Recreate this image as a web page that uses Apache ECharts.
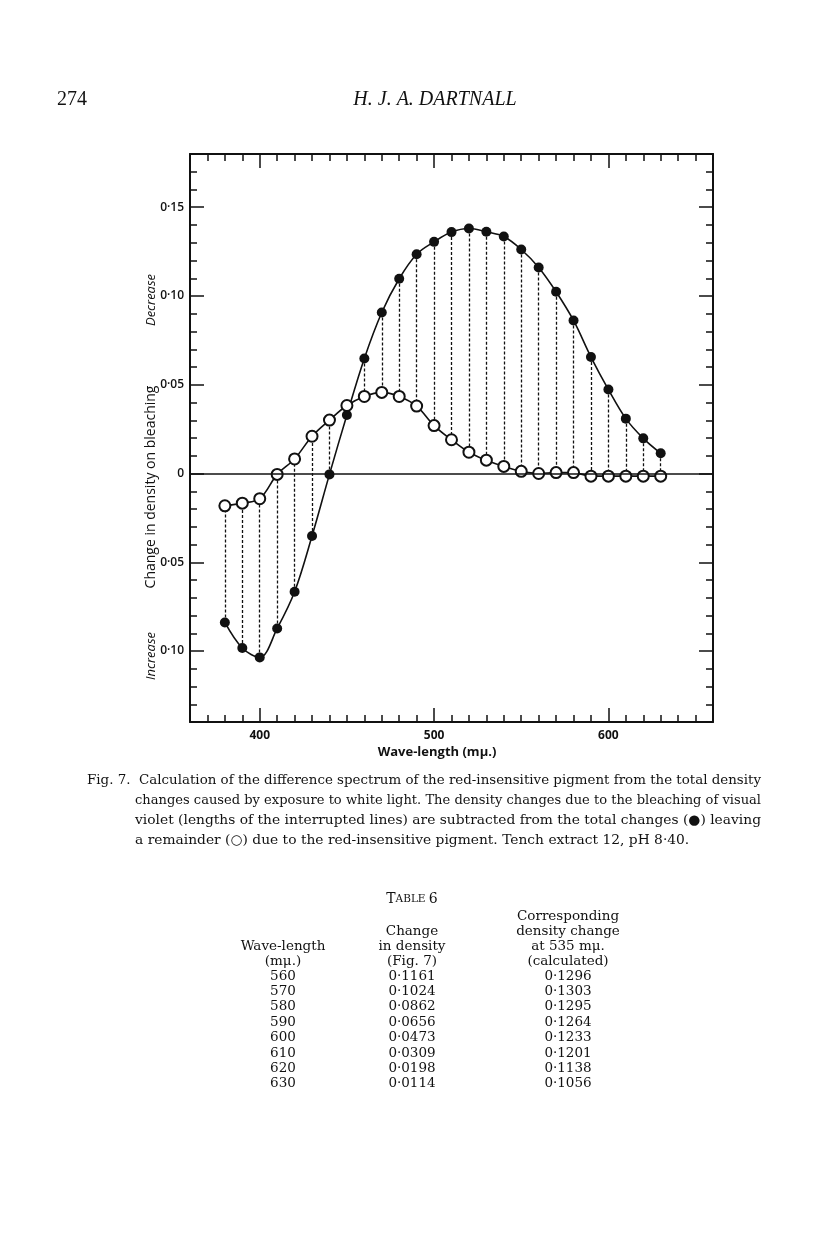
<!DOCTYPE html>
<html>
<head>
<meta charset="utf-8">
<title>Fig. 7</title>
<script src="https://cdn.jsdelivr.net/npm/echarts@6/dist/echarts.min.js"></script>
<style>
  html, body { margin: 0; padding: 0; background: #fff; }
  #main { width: 816px; height: 1249px; }
</style>
</head>
<body>
<div id="main"></div>
<script type="text/javascript">
// wavelengths (mμ) of the measured points
var waves = [380, 390, 400, 410, 420, 430, 440, 450, 460, 470, 480, 490, 500,
             510, 520, 530, 540, 550, 560, 570, 580, 590, 600, 610, 620, 630];
// total density changes (filled circles)
var total = [-0.0839, -0.0983, -0.1036, -0.0873, -0.0666, -0.0352, -0.0005, 0.0330, 0.0648, 0.0907, 0.1097, 0.1235, 0.1305,
             0.1360, 0.1380, 0.1362, 0.1335, 0.1262, 0.1161, 0.1024, 0.0862, 0.0656, 0.0473, 0.0309, 0.0198, 0.0114];
// remainder, red-insensitive pigment (open circles)
var remainder = [-0.0182, -0.0167, -0.0142, -0.0005, 0.0082, 0.0210, 0.0301, 0.0383, 0.0434, 0.0457, 0.0434, 0.0380, 0.0270,
                 0.0190, 0.0120, 0.0075, 0.0040, 0.0012, 0.0000, 0.0005, 0.0005, -0.0015, -0.0015, -0.0015, -0.0015, -0.0015];

var xMajor = [400, 500, 600];
var yMajor = [-0.10, -0.05, 0, 0.05, 0.10, 0.15];

// Table 6
var tableWaves = [560, 570, 580, 590, 600, 610, 620, 630];
var tableChange = [0.1161, 0.1024, 0.0862, 0.0656, 0.0473, 0.0309, 0.0198, 0.0114];
var tableCalc = [0.1296, 0.1303, 0.1295, 0.1264, 0.1233, 0.1201, 0.1138, 0.1056];

var caption = [
  'Fig. 7.  Calculation of the difference spectrum of the red-insensitive pigment from the total density',
  'changes caused by exposure to white light. The density changes due to the bleaching of visual',
  'violet (lengths of the interrupted lines) are subtracted from the total changes (\u25CF) leaving',
  'a remainder (\u25CB) due to the red-insensitive pigment. Tench extract 12, pH 8\u00B740.'
];

var myChart = echarts.init(document.getElementById('main'));

var sans = '"Open Sans", "DejaVu Sans", sans-serif';
var serif = '"Liberation Serif", "DejaVu Serif", serif';
var book = '"DejaVu Serif", "Liberation Serif", serif';

function pts(ys) {
  return waves.map(function (w, i) { return [w, ys[i]]; });
}
// interrupted lines from total to remainder
var drops = waves.map(function (w, i) {
  return { coords: [[w, total[i]], [w, remainder[i]]] };
});
function yLab(v) {
  if (Math.abs(v) < 1e-9) return '0';
  return '0\u00B7' + String(Math.round(Math.abs(v) * 100)).padStart(2, '0');
}
function fmt4(v) { return v.toFixed(4).replace('.', '\u00B7'); }

function xAx(pos, major) {
  var a = {
    type: 'value', min: 360, max: 660, gridIndex: 0,
    position: pos,
    splitLine: { show: false },
    axisLine: { show: !major, onZero: false, lineStyle: { color: '#111', width: 2 } },
    axisTick: { inside: true, length: major ? 14 : 7, lineStyle: { color: '#111', width: 1.5 } },
    axisLabel: { show: false }
  };
  if (major) {
    a.axisTick.customValues = xMajor;
    if (pos === 'bottom') {
      a.axisLabel = { show: true, customValues: xMajor, margin: 8, color: '#111',
        fontFamily: sans, fontWeight: 700, fontSize: 12 };
    }
  } else {
    a.interval = 10;
  }
  return a;
}
function yAx(pos, major) {
  var a = {
    type: 'value', min: -0.14, max: 0.18, gridIndex: 0,
    position: pos,
    splitLine: { show: false },
    axisLine: { show: !major, onZero: false, lineStyle: { color: '#111', width: 2 } },
    axisTick: { inside: true, length: major ? 14 : 7, lineStyle: { color: '#111', width: 1.5 } },
    axisLabel: { show: false }
  };
  if (major) {
    a.axisTick.customValues = yMajor;
    if (pos === 'left') {
      a.axisLabel = { show: true, customValues: yMajor, margin: 6, color: '#111',
        fontFamily: sans, fontWeight: 600, fontSize: 12, formatter: yLab };
    }
  } else {
    a.interval = 0.01;
  }
  return a;
}

var graphics = [
  { type: 'text', left: 57, top: 90, style: { text: '274', font: '20px ' + serif, fill: '#111' } },
  { type: 'text', x: 435, y: 100, style: { text: 'H. J. A. DARTNALL', font: 'italic 20px ' + serif,
      fill: '#111', align: 'center', verticalAlign: 'middle' } },
  { type: 'text', x: 437, y: 752, style: { text: 'Wave-length (m\u03BC.)', font: '700 13px ' + sans,
      fill: '#111', align: 'center', verticalAlign: 'middle' } },
  { type: 'text', x: 151, y: 300, rotation: Math.PI / 2, style: { text: 'Decrease', font: 'italic 13px ' + sans,
      fill: '#111', align: 'center', verticalAlign: 'middle' } },
  { type: 'text', x: 151, y: 487, rotation: Math.PI / 2, style: { text: 'Change in density on bleaching', font: '14px ' + sans,
      fill: '#111', align: 'center', verticalAlign: 'middle' } },
  { type: 'text', x: 151, y: 656, rotation: Math.PI / 2, style: { text: 'Increase', font: 'italic 13px ' + sans,
      fill: '#111', align: 'center', verticalAlign: 'middle' } }
];

// caption lines, stretched to the justified measure of the page
var capFont = '13.5px ' + book;
var ctx = document.createElement('canvas').getContext('2d');
ctx.font = capFont;
var capScale = 1;
caption.forEach(function (line, i) {
  var left = i === 0 ? 87 : 135;
  var w = ctx.measureText(line).width;
  if (i < caption.length - 1) capScale = (761 - left) / w;
  graphics.push({ type: 'text', x: left, y: 780 + i * 20, scaleX: capScale,
    style: { text: line, font: capFont, fill: '#111', verticalAlign: 'middle' } });
});

// table
var colX = [283, 412, 568];
graphics.push({ type: 'text', x: 412, y: 899, style: {
  rich: { a: { font: '14px ' + book, fill: '#111' }, b: { font: '10.5px ' + book, fill: '#111' } },
  text: '{a|T}{b|ABLE} {a|6}', align: 'center', verticalAlign: 'middle' } });
var heads = [
  [['Wave-length', 946], ['(m\u03BC.)', 961]],
  [['Change', 931], ['in density', 946], ['(Fig. 7)', 961]],
  [['Corresponding', 916], ['density change', 931], ['at 535 m\u03BC.', 946], ['(calculated)', 961]]
];
heads.forEach(function (col, c) {
  col.forEach(function (h) {
    graphics.push({ type: 'text', x: colX[c], y: h[1], style: { text: h[0], font: '13.5px ' + book,
      fill: '#111', align: 'center', verticalAlign: 'middle' } });
  });
});
tableWaves.forEach(function (w, r) {
  var y = 976 + r * 15.4;
  [String(w), fmt4(tableChange[r]), fmt4(tableCalc[r])].forEach(function (t, c) {
    graphics.push({ type: 'text', x: colX[c], y: y, style: { text: t, font: '13.5px ' + book,
      fill: '#111', align: 'center', verticalAlign: 'middle' } });
  });
});

var option = {
  backgroundColor: '#fff',
  animation: false,
  grid: { left: 190, right: 103, top: 154, bottom: 527, show: false },
  xAxis: [xAx('bottom', false), xAx('bottom', true), xAx('top', false), xAx('top', true)],
  yAxis: [yAx('left', false), yAx('left', true), yAx('right', false), yAx('right', true)],
  graphic: graphics,
  series: [
    {
      type: 'lines',
      coordinateSystem: 'cartesian2d',
      xAxisIndex: 0, yAxisIndex: 0,
      data: drops,
      lineStyle: { color: '#111', width: 1.3, type: [3, 2], opacity: 1 },
      z: 1
    },
    {
      type: 'line',
      xAxisIndex: 0, yAxisIndex: 0,
      data: pts(total),
      smooth: 0.35,
      symbol: 'circle',
      symbolSize: 10,
      lineStyle: { color: '#111', width: 1.6 },
      itemStyle: { color: '#111', borderWidth: 0 },
      markLine: {
        silent: true, symbol: 'none', label: { show: false },
        lineStyle: { color: '#111', width: 1.6, type: 'solid' },
        data: [{ yAxis: 0 }]
      },
      z: 3
    },
    {
      type: 'line',
      xAxisIndex: 0, yAxisIndex: 0,
      data: pts(remainder),
      smooth: 0.35,
      symbol: 'circle',
      symbolSize: 11,
      showAllSymbol: true,
      lineStyle: { color: '#111', width: 1.6 },
      itemStyle: { color: '#fff', borderColor: '#111', borderWidth: 2 },
      z: 4
    }
  ]
};

myChart.setOption(option);
</script>
</body>
</html>
